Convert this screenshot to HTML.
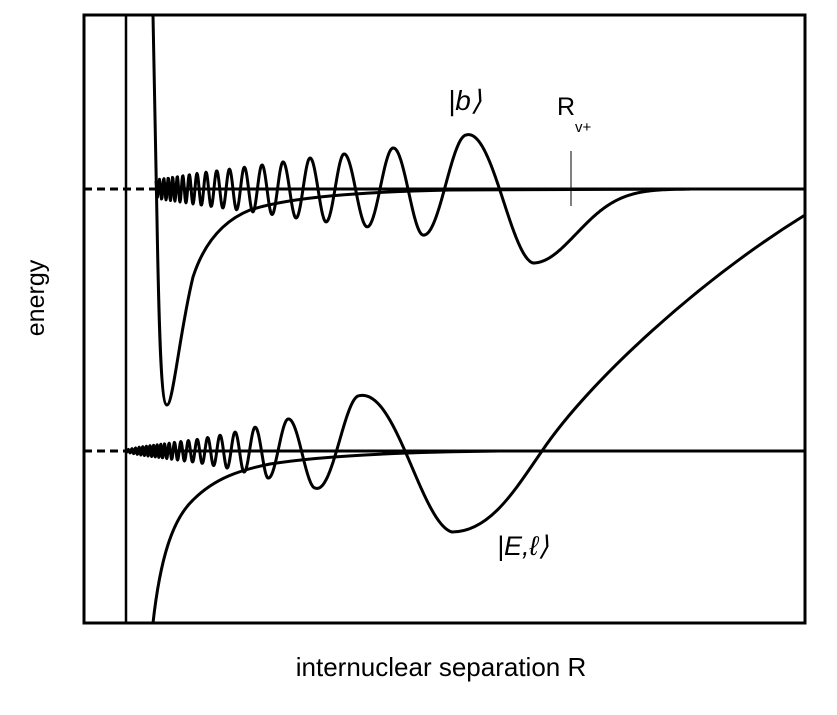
<!DOCTYPE html>
<html><head><meta charset="utf-8"><style>
html,body{margin:0;padding:0;background:#fff;}
svg{display:block}
text{font-family:"Liberation Sans",sans-serif;fill:#000}
</style></head><body>
<svg id="s" width="837" height="715" viewBox="0 0 837 715" xmlns="http://www.w3.org/2000/svg">
<rect x="84" y="15" width="721" height="608" fill="none" stroke="#000" stroke-width="3"/>
<line x1="126" y1="15" x2="126" y2="623" stroke="#000" stroke-width="2.5"/>
<line x1="84" y1="189" x2="154" y2="189" stroke="#000" stroke-width="3" stroke-dasharray="8,5"/>
<line x1="154" y1="189" x2="805" y2="189" stroke="#000" stroke-width="3"/>
<line x1="84" y1="451" x2="126" y2="451" stroke="#000" stroke-width="3" stroke-dasharray="8,5"/>
<line x1="126" y1="451" x2="805" y2="451" stroke="#000" stroke-width="3"/>
<path d="M153,15 L157,220 C159,330 161,405 167,405 C173,405 180,330 193,277 C205,240 225,220 250,210 C290,197 360,192 450,190 L690,189" fill="none" stroke="#000" stroke-width="3"/>
<path d="M153,623 C160,560 172,520 193,500 C215,478 240,470 270,464 C320,456 400,452 500,451 L805,451" fill="none" stroke="#000" stroke-width="3"/>
<path id="wb" fill="none" stroke="#000" stroke-width="3" stroke-linejoin="round"/>
<path id="we" fill="none" stroke="#000" stroke-width="3" stroke-linejoin="round"/>
<line x1="571" y1="151" x2="571" y2="206" stroke="#000" stroke-width="1"/>
<text x="557" y="115" font-size="25">R</text>
<text x="575" y="132" font-size="15">v+</text>
<text x="448" y="110" font-size="28" font-style="italic">|b⟩</text>
<text x="497" y="555" font-size="27" font-style="italic">|E,ℓ⟩</text>
<text transform="translate(44,298) rotate(-90)" text-anchor="middle" font-size="25">energy</text>
<text x="441" y="676" text-anchor="middle" font-size="26">internuclear separation R</text>
</svg>
<script>
function interp(xs,ys,x){
  if(x>=xs[0])return ys[0];
  for(var i=0;i<xs.length-1;i++){ if(x<=xs[i]&&x>=xs[i+1]){var t=(xs[i]-x)/(xs[i]-xs[i+1]);return ys[i]+t*(ys[i+1]-ys[i]);} }
  return ys[ys.length-1];
}
function extendKnots(k,x0,sEnd,sMin,xmin){
  var x=k[k.length-1], s=k[k.length-2]-x;
  while(x>xmin){ s=Math.max(sMin,s*0.92); x-=s; k.push(Math.max(x,xmin)); }
  return k;
}
var ku=extendKnots([533,466,423,393,367,344,326,310,296,283,272,262],154,10,2.2,156);
var kiu=ku.map(function(_,i){return i;});
var ax=[533,466,423,393,344,310,262,200,160,156],ay=[74,54,46,41,35,31,24,16,10,8];
var d="";
for(var x=156;x<=690;x+=0.5){
  var y;
  if(x<=533){var k=interp(ku,kiu,x);var A=interp(ax,ay,x);y=189-A*Math.cos(Math.PI*(1+k));}
  else{y=189+74*Math.exp(-Math.pow((x-533)/61,2));}
  d+=(d?"L":"M")+x.toFixed(1)+","+y.toFixed(1);
}
document.getElementById("wb").setAttribute("d",d);
var ke=extendKnots([452,358,315,288,268,255,244,235,227,220],126,7,1.8,126);
var kie=ke.map(function(_,i){return i;});
var bx=[452,358,315,288,268,244,227,200,170,140,126],by=[81,55,37,32,27,21,17,12,8,4,1];
var e="";
for(var x=126;x<=452;x+=0.4){
  var k=interp(ke,kie,x),A=interp(bx,by,x);
  var y=451-A*Math.cos(Math.PI*(1+k));
  e+=(e?"L":"M")+x.toFixed(1)+","+y.toFixed(1);
}
e+="C490,532 515,490 542,451 C590,380 700,280 805,215";
document.getElementById("we").setAttribute("d",e);
</script>
</body></html>
